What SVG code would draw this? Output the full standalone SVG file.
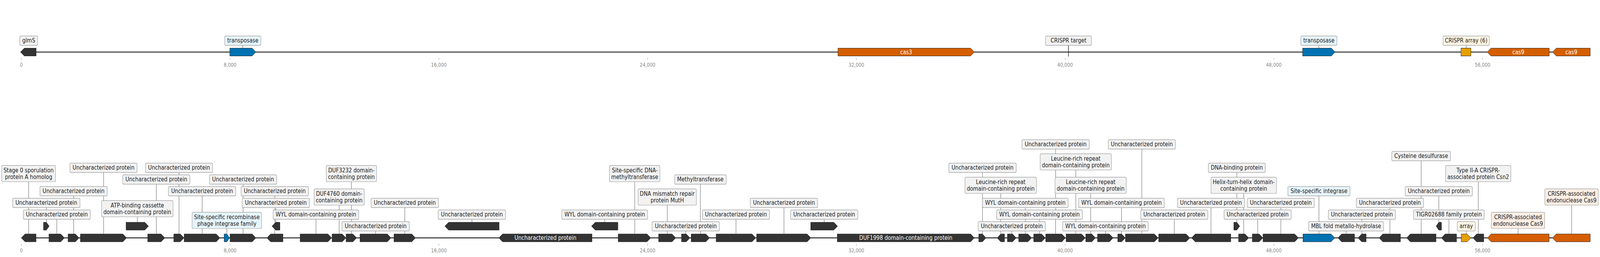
<svg xmlns="http://www.w3.org/2000/svg" width="4741" height="659" viewBox="0 0 4741 659" preserveAspectRatio="none">
<style>
svg{max-width:100vw}
.bb{stroke:#000;stroke-width:2;fill:none}
.g{fill:#333;stroke:#1a1a1a;stroke-width:1}
.gb{fill:#0072B2;stroke:#1a1a1a;stroke-width:1}
.go{fill:#D55E00;stroke:#1a1a1a;stroke-width:1}
.ga{fill:#E69F00;stroke:#1a1a1a;stroke-width:1}
.lb{fill:#f2f2f2;stroke:#999;stroke-width:1.2}
.lbb{fill:#e6f5fc;stroke:#999;stroke-width:1.2}
.lba{fill:#fdf6e5;stroke:#999;stroke-width:1.2}
.lbc{fill:#fdeee4;stroke:#999;stroke-width:1.2}
.cn{stroke:#555;stroke-width:1;fill:none}
.tg{stroke:#111;stroke-width:1.5}
.t{font-family:"DejaVu Sans","Liberation Sans",sans-serif;font-size:15.2px;fill:#1a1a1a;text-anchor:middle}
.tw{fill:#fff}
.tk{stroke:#999;stroke-width:1}
.tl{font-family:"DejaVu Sans","Liberation Sans",sans-serif;font-size:13.2px;fill:#888;text-anchor:middle}
</style>
<rect width="4741" height="659" fill="#fff"/>
<g id="backbones">
<line class="bb" x1="61" y1="133.5" x2="4712" y2="133.5"/>
<line class="bb" x1="63.3" y1="610" x2="4712" y2="610"/>
</g>
<g id="axes">
<g class="tk">
<line x1="63.3" y1="148.5" x2="63.3" y2="153.5"/><line x1="681.8" y1="148.5" x2="681.8" y2="153.5"/><line x1="1300.4" y1="148.5" x2="1300.4" y2="153.5"/><line x1="1918.9" y1="148.5" x2="1918.9" y2="153.5"/><line x1="2537.4" y1="148.5" x2="2537.4" y2="153.5"/><line x1="3156" y1="148.5" x2="3156" y2="153.5"/><line x1="3774.5" y1="148.5" x2="3774.5" y2="153.5"/><line x1="4393" y1="148.5" x2="4393" y2="153.5"/>
<line x1="63.3" y1="625" x2="63.3" y2="630"/><line x1="681.8" y1="625" x2="681.8" y2="630"/><line x1="1300.4" y1="625" x2="1300.4" y2="630"/><line x1="1918.9" y1="625" x2="1918.9" y2="630"/><line x1="2537.4" y1="625" x2="2537.4" y2="630"/><line x1="3156" y1="625" x2="3156" y2="630"/><line x1="3774.5" y1="625" x2="3774.5" y2="630"/><line x1="4393" y1="625" x2="4393" y2="630"/>
</g>
<g class="tl">
<text x="63.3" y="171.5">0</text><text x="681.8" y="171.5">8,000</text><text x="1300.4" y="171.5">16,000</text><text x="1918.9" y="171.5">24,000</text><text x="2537.4" y="171.5">32,000</text><text x="3156" y="171.5">40,000</text><text x="3774.5" y="171.5">48,000</text><text x="4393" y="171.5">56,000</text>
<text x="63.3" y="647">0</text><text x="681.8" y="647">8,000</text><text x="1300.4" y="647">16,000</text><text x="1918.9" y="647">24,000</text><text x="2537.4" y="647">32,000</text><text x="3156" y="647">40,000</text><text x="3774.5" y="647">48,000</text><text x="4393" y="647">56,000</text>
</g>
</g>
<g id="connectors" class="cn">
<line x1="719.5" y1="123.5" x2="719.5" y2="116.3"/>
<line x1="3908" y1="123.5" x2="3908" y2="116.3"/>
<line x1="4344.5" y1="123.5" x2="4344.5" y2="116.3"/>
<line x1="85" y1="600" x2="85" y2="466"/>
<line x1="168.3" y1="600" x2="168.3" y2="562.3"/>
<line x1="218.3" y1="600" x2="218.3" y2="502.3"/>
<line x1="307" y1="600" x2="307" y2="442.3"/>
<line x1="463.2" y1="600" x2="463.2" y2="472.3"/>
<line x1="137.3" y1="570" x2="137.3" y2="532.3"/>
<line x1="407" y1="570" x2="407" y2="556"/>
<line x1="530.5" y1="600" x2="530.5" y2="442.3"/>
<line x1="599" y1="600" x2="599" y2="502.3"/>
<line x1="672.2" y1="600" x2="672.2" y2="586"/>
<line x1="720.3" y1="600" x2="720.3" y2="472.3"/>
<line x1="814.2" y1="600" x2="814.2" y2="502.3"/>
<line x1="817.3" y1="570" x2="817.3" y2="532.3"/>
<line x1="936.3" y1="600" x2="936.3" y2="562.3"/>
<line x1="1005" y1="600" x2="1005" y2="526"/>
<line x1="1041.2" y1="600" x2="1041.2" y2="466"/>
<line x1="1113.2" y1="600" x2="1113.2" y2="592.3"/>
<line x1="1199.5" y1="600" x2="1199.5" y2="532.3"/>
<line x1="1398.4" y1="570" x2="1398.4" y2="562.3"/>
<line x1="1791.8" y1="570" x2="1791.8" y2="562.3"/>
<line x1="1880.9" y1="600" x2="1880.9" y2="466"/>
<line x1="1977.2" y1="600" x2="1977.2" y2="526"/>
<line x1="2032.2" y1="600" x2="2032.2" y2="592.3"/>
<line x1="2075.3" y1="600" x2="2075.3" y2="472.3"/>
<line x1="2180.8" y1="600" x2="2180.8" y2="562.3"/>
<line x1="2323" y1="600" x2="2323" y2="532.3"/>
<line x1="2442.2" y1="570" x2="2442.2" y2="562.3"/>
<line x1="2911.2" y1="600" x2="2911.2" y2="442.3"/>
<line x1="2965.3" y1="600" x2="2965.3" y2="496"/>
<line x1="2998.2" y1="600" x2="2998.2" y2="592.3"/>
<line x1="3038" y1="600" x2="3038" y2="532.3"/>
<line x1="3080.2" y1="600" x2="3080.2" y2="562.3"/>
<line x1="3128" y1="600" x2="3128" y2="382.3"/>
<line x1="3187.8" y1="600" x2="3187.8" y2="436"/>
<line x1="3231.8" y1="600" x2="3231.8" y2="496"/>
<line x1="3275.7" y1="600" x2="3275.7" y2="592.3"/>
<line x1="3323.2" y1="600" x2="3323.2" y2="532.3"/>
<line x1="3383.4" y1="600" x2="3383.4" y2="382.3"/>
<line x1="3479.6" y1="600" x2="3479.6" y2="562.3"/>
<line x1="3588.3" y1="600" x2="3588.3" y2="532.3"/>
<line x1="3664.9" y1="570" x2="3664.9" y2="442.3"/>
<line x1="3685.3" y1="600" x2="3685.3" y2="496"/>
<line x1="3726.7" y1="600" x2="3726.7" y2="562.3"/>
<line x1="3795.3" y1="600" x2="3795.3" y2="532.3"/>
<line x1="3908.2" y1="600" x2="3908.2" y2="502.3"/>
<line x1="3988.7" y1="600" x2="3988.7" y2="592.3"/>
<line x1="4035.6" y1="600" x2="4035.6" y2="562.3"/>
<line x1="4118.5" y1="600" x2="4118.5" y2="532.3"/>
<line x1="4211.1" y1="600" x2="4211.1" y2="412.3"/>
<line x1="4263.4" y1="570" x2="4263.4" y2="502.3"/>
<line x1="4293.3" y1="600" x2="4293.3" y2="562.3"/>
<line x1="4344.7" y1="600" x2="4344.7" y2="592.3"/>
<line x1="4380.3" y1="600" x2="4380.3" y2="466"/>
<line x1="4498.3" y1="600" x2="4498.3" y2="586"/>
<line x1="4657" y1="600" x2="4657" y2="526"/>
</g>
<g id="top-track">
<g id="top-glmS"><polygon class="g" points="107,123.5 72,123.5 61,133.5 72,143.5 107,143.5"/><rect class="lb" x="58.5" y="92.3" width="53" height="24" rx="3"/><text class="t" x="85" y="109">glmS</text></g>
<g id="top-transposase-1"><polygon class="gb" points="681,123.5 747,123.5 758,133.5 747,143.5 681,143.5"/><rect class="lbb" x="666" y="92.3" width="107" height="24" rx="3"/><text class="t" x="719.5" y="109">transposase</text></g>
<g id="top-cas3"><polygon class="go" points="2483,123.5 2876,123.5 2887,133.5 2876,143.5 2483,143.5"/><text class="t tw" x="2685" y="139">cas3</text></g>
<g id="top-crispr-target"><line class="tg" x1="3166" y1="116.3" x2="3166" y2="145"/><rect class="lb" x="3098" y="92.3" width="136" height="24" rx="3"/><text class="t" x="3166" y="109">CRISPR target</text></g>
<g id="top-transposase-2"><polygon class="gb" points="3860,123.5 3945,123.5 3956,133.5 3945,143.5 3860,143.5"/><rect class="lbb" x="3854.5" y="92.3" width="107" height="24" rx="3"/><text class="t" x="3908" y="109">transposase</text></g>
<g id="top-crispr-array"><rect class="ga" x="4329" y="123.5" width="29.5" height="20"/><rect class="lba" x="4276" y="92.3" width="137" height="24" rx="3"/><text class="t" x="4344.5" y="109">CRISPR array (6)</text></g>
<g id="top-cas9-1"><polygon class="go" points="4590.5,123.5 4418,123.5 4407,133.5 4418,143.5 4590.5,143.5"/><text class="t tw" x="4499" y="139">cas9</text></g>
<g id="top-cas9-2"><polygon class="go" points="4712,123.5 4611.5,123.5 4600.5,133.5 4611.5,143.5 4712,143.5"/><text class="t tw" x="4656" y="139">cas9</text></g>
</g>
<g id="bottom-track">
<g id="n01"><polygon class="g" points="106.7,600 74.3,600 63.3,610 74.3,620 106.7,620"/><rect class="lb" x="5" y="424.3" width="159.3" height="41.7" rx="3"/><text class="t"><tspan x="84.7" y="441.9">Stage 0 sporulation</tspan><tspan x="84.7" y="458.6">protein A homolog</tspan></text></g>
<g id="n02"><polygon class="g" points="145,600 180,600 191,610 180,620 145,620"/><rect class="lb" x="69" y="538.3" width="198.7" height="24" rx="3"/><text class="t" x="168.4" y="555.1">Uncharacterized protein</text></g>
<g id="n03"><polygon class="g" points="201.7,600 223.3,600 234.3,610 223.3,620 201.7,620"/><rect class="lb" x="118.3" y="478.3" width="199.4" height="24" rx="3"/><text class="t" x="218" y="495.1">Uncharacterized protein</text></g>
<g id="n04"><polygon class="g" points="238.3,600 364,600 375,610 364,620 238.3,620"/><rect class="lb" x="207.3" y="418.3" width="199" height="24" rx="3"/><text class="t" x="306.8" y="435.1">Uncharacterized protein</text></g>
<g id="n05"><polygon class="g" points="437.7,600 477.3,600 488.3,610 477.3,620 437.7,620"/><rect class="lb" x="363.7" y="448.3" width="199" height="24" rx="3"/><text class="t" x="463.2" y="465.1">Uncharacterized protein</text></g>
<g id="u01"><polygon class="g" points="129,570 137.3,570 145.7,580 137.3,590 129,590"/><rect class="lb" x="37.7" y="508.3" width="199.3" height="24" rx="3"/><text class="t" x="137.3" y="525.1">Uncharacterized protein</text></g>
<g id="u02"><polygon class="g" points="373.7,570 429,570 440,580 429,590 373.7,590"/><rect class="lb" x="301" y="514.3" width="211.7" height="41.7" rx="3"/><text class="t"><tspan x="406.9" y="531.9">ATP-binding cassette</tspan><tspan x="406.9" y="548.6">domain-containing protein</tspan></text></g>
<g id="n06"><polygon class="g" points="515,600 534.3,600 545.3,610 534.3,620 515,620"/><rect class="lb" x="431" y="418.3" width="199" height="24" rx="3"/><text class="t" x="530.5" y="435.1">Uncharacterized protein</text></g>
<g id="n07"><polygon class="g" points="545.7,600 640.7,600 651.7,610 640.7,620 545.7,620"/><rect class="lb" x="499" y="478.3" width="199.7" height="24" rx="3"/><text class="t" x="598.9" y="495.1">Uncharacterized protein</text></g>
<g id="n08"><polygon class="gb" points="664.3,600 672.2,600 680,610 672.2,620 664.3,620"/><rect class="lbb" x="569.3" y="544.3" width="205.7" height="41.7" rx="3"/><text class="t"><tspan x="672.2" y="561.9">Site-specific recombinase</tspan><tspan x="672.2" y="578.6">phage integrase family</tspan></text></g>
<g id="n09"><polygon class="g" points="681.7,600 747.3,600 758.3,610 747.3,620 681.7,620"/><rect class="lb" x="620.7" y="448.3" width="199.3" height="24" rx="3"/><text class="t" x="720.3" y="465.1">Uncharacterized protein</text></g>
<g id="n10"><polygon class="g" points="838.3,600 802,600 791,610 802,620 838.3,620"/><rect class="lb" x="714.3" y="478.3" width="199.7" height="24" rx="3"/><text class="t" x="814.2" y="495.1">Uncharacterized protein</text></g>
<g id="u03"><polygon class="g" points="829.3,570 817,570 806,580 817,590 829.3,590"/><rect class="lb" x="717.7" y="508.3" width="199.3" height="24" rx="3"/><text class="t" x="817.3" y="525.1">Uncharacterized protein</text></g>
<g id="n11"><polygon class="g" points="889.3,600 971.7,600 982.7,610 971.7,620 889.3,620"/><rect class="lb" x="809.3" y="538.3" width="253.7" height="24" rx="3"/><text class="t" x="936.2" y="555.1">WYL domain-containing protein</text></g>
<g id="n12"><polygon class="g" points="984,600 1014,600 1025,610 1014,620 984,620"/><rect class="lb" x="930.7" y="484.3" width="148.6" height="41.7" rx="3"/><text class="t"><tspan x="1005" y="501.9">DUF4760 domain-</tspan><tspan x="1005" y="518.6">containing protein</tspan></text></g>
<g id="n13"><polygon class="g" points="1025.5,600 1045.7,600 1056.7,610 1045.7,620 1025.5,620"/><rect class="lb" x="966.7" y="424.3" width="149.1" height="41.7" rx="3"/><text class="t"><tspan x="1041.2" y="441.9">DUF3232 domain-</tspan><tspan x="1041.2" y="458.6">containing protein</tspan></text></g>
<g id="n14"><polygon class="g" points="1066.8,600 1147.7,600 1158.7,610 1147.7,620 1066.8,620"/><rect class="lb" x="1013.4" y="568.3" width="199.4" height="24" rx="3"/><text class="t" x="1113.1" y="585.1">Uncharacterized protein</text></g>
<g id="n15"><polygon class="g" points="1167.5,600 1220,600 1231,610 1220,620 1167.5,620"/><rect class="lb" x="1099.6" y="508.3" width="199.8" height="24" rx="3"/><text class="t" x="1199.5" y="525.1">Uncharacterized protein</text></g>
<g id="u04"><polygon class="g" points="1478.9,570 1329.3,570 1318.3,580 1329.3,590 1478.9,590"/><rect class="lb" x="1298.4" y="538.3" width="199.8" height="24" rx="3"/><text class="t" x="1398.3" y="555.1">Uncharacterized protein</text></g>
<g id="n16"><polygon class="g" points="1754.1,600 1489.2,600 1478.2,610 1489.2,620 1754.1,620"/><text class="t tw" x="1616.2" y="615.5">Uncharacterized protein</text></g>
<g id="u05"><polygon class="g" points="1830.9,570 1763.8,570 1752.8,580 1763.8,590 1830.9,590"/><rect class="lb" x="1664.6" y="538.3" width="254.2" height="24" rx="3"/><text class="t" x="1791.7" y="555.1">WYL domain-containing protein</text></g>
<g id="n17"><polygon class="g" points="1831.9,600 1917.2,600 1928.2,610 1917.2,620 1831.9,620"/><rect class="lb" x="1806.2" y="424.3" width="149.1" height="41.7" rx="3"/><text class="t"><tspan x="1880.8" y="441.9">Site-specific DNA-</tspan><tspan x="1880.8" y="458.6">methyltransferase</tspan></text></g>
<g id="n18"><polygon class="g" points="1951.6,600 1991.3,600 2002.3,610 1991.3,620 1951.6,620"/><rect class="lb" x="1890.7" y="484.3" width="172.8" height="41.7" rx="3"/><text class="t"><tspan x="1977.1" y="501.9">DNA mismatch repair</tspan><tspan x="1977.1" y="518.6">protein MutH</tspan></text></g>
<g id="n19"><polygon class="g" points="2019.5,600 2033.5,600 2044.5,610 2033.5,620 2019.5,620"/><rect class="lb" x="1932.3" y="568.3" width="199.5" height="24" rx="3"/><text class="t" x="2032.1" y="585.1">Uncharacterized protein</text></g>
<g id="n20"><polygon class="g" points="2048,600 2091.4,600 2102.4,610 2091.4,620 2048,620"/><rect class="lb" x="1998.9" y="448.3" width="152.9" height="24" rx="3"/><text class="t" x="2075.3" y="465.1">Methyltransferase</text></g>
<g id="n21"><polygon class="g" points="2122,600 2228.3,600 2239.3,610 2228.3,620 2122,620"/><rect class="lb" x="2081.1" y="538.3" width="199.1" height="24" rx="3"/><text class="t" x="2180.7" y="555.1">Uncharacterized protein</text></g>
<g id="n22"><polygon class="g" points="2242,600 2391.6,600 2402.6,610 2391.6,620 2242,620"/><rect class="lb" x="2223.1" y="508.3" width="199.5" height="24" rx="3"/><text class="t" x="2322.9" y="525.1">Uncharacterized protein</text></g>
<g id="u06"><polygon class="g" points="2402.3,570 2470.7,570 2481.7,580 2470.7,590 2402.3,590"/><rect class="lb" x="2342.4" y="538.3" width="199.5" height="24" rx="3"/><text class="t" x="2442.2" y="555.1">Uncharacterized protein</text></g>
<g id="n23"><polygon class="g" points="2481,600 2876,600 2887,610 2876,620 2481,620"/><text class="t tw" x="2684" y="615.5">DUF1998 domain-containing protein</text></g>
<g id="n24"><polygon class="g" points="2900.3,600 2911,600 2921.6,610 2911,620 2900.3,620"/><rect class="lb" x="2811.4" y="418.3" width="199.8" height="24" rx="3"/><text class="t" x="2911.3" y="435.1">Uncharacterized protein</text></g>
<g id="n25"><polygon class="g" points="2976.4,600 2965.5,600 2954.7,610 2965.5,620 2976.4,620"/><rect class="lb" x="2859.4" y="454.3" width="211.6" height="41.7" rx="3"/><text class="t"><tspan x="2965.2" y="471.9">Leucine-rich repeat</tspan><tspan x="2965.2" y="488.6">domain-containing protein</tspan></text></g>
<g id="n26"><polygon class="g" points="2985.1,600 3000.2,600 3011.2,610 3000.2,620 2985.1,620"/><rect class="lb" x="2898.3" y="568.3" width="199.4" height="24" rx="3"/><text class="t" x="2998" y="585.1">Uncharacterized protein</text></g>
<g id="n27"><polygon class="g" points="3018.6,600 3045.8,600 3056.8,610 3045.8,620 3018.6,620"/><rect class="lb" x="2911" y="508.3" width="254" height="24" rx="3"/><text class="t" x="3038" y="525.1">WYL domain-containing protein</text></g>
<g id="n28"><polygon class="g" points="3062.9,600 3086.4,600 3097.4,610 3086.4,620 3062.9,620"/><rect class="lb" x="2953" y="538.3" width="254.4" height="24" rx="3"/><text class="t" x="3080.2" y="555.1">WYL domain-containing protein</text></g>
<g id="n29"><polygon class="g" points="3098.6,600 3146.1,600 3157.1,610 3146.1,620 3098.6,620"/><rect class="lb" x="3028.1" y="358.3" width="199.6" height="24" rx="3"/><text class="t" x="3127.9" y="375.1">Uncharacterized protein</text></g>
<g id="n30"><polygon class="g" points="3158.9,600 3204.7,600 3215.7,610 3204.7,620 3158.9,620"/><rect class="lb" x="3082.2" y="394.3" width="211" height="41.7" rx="3"/><text class="t"><tspan x="3187.7" y="411.9">Leucine-rich repeat</tspan><tspan x="3187.7" y="428.6">domain-containing protein</tspan></text></g>
<g id="n31"><polygon class="g" points="3217.4,600 3235,600 3246,610 3235,620 3217.4,620"/><rect class="lb" x="3126.2" y="454.3" width="211" height="41.7" rx="3"/><text class="t"><tspan x="3231.7" y="471.9">Leucine-rich repeat</tspan><tspan x="3231.7" y="488.6">domain-containing protein</tspan></text></g>
<g id="n32"><polygon class="g" points="3252.2,600 3287.3,600 3298.3,610 3287.3,620 3252.2,620"/><rect class="lb" x="3148.5" y="568.3" width="254.2" height="24" rx="3"/><text class="t" x="3275.6" y="585.1">WYL domain-containing protein</text></g>
<g id="n33"><polygon class="g" points="3312.1,600 3323.5,600 3334.5,610 3323.5,620 3312.1,620"/><rect class="lb" x="3196" y="508.3" width="254.2" height="24" rx="3"/><text class="t" x="3323.1" y="525.1">WYL domain-containing protein</text></g>
<g id="n34"><polygon class="g" points="3334.8,600 3420.6,600 3431.6,610 3420.6,620 3334.8,620"/><rect class="lb" x="3283.9" y="358.3" width="199" height="24" rx="3"/><text class="t" x="3383.4" y="375.1">Uncharacterized protein</text></g>
<g id="n35"><polygon class="g" points="3433.3,600 3514.6,600 3525.6,610 3514.6,620 3433.3,620"/><rect class="lb" x="3380" y="538.3" width="199" height="24" rx="3"/><text class="t" x="3479.5" y="555.1">Uncharacterized protein</text></g>
<g id="n36"><polygon class="g" points="3647,600 3541.8,600 3530.8,610 3541.8,620 3647,620"/><rect class="lb" x="3488.8" y="508.3" width="198.9" height="24" rx="3"/><text class="t" x="3588.2" y="525.1">Uncharacterized protein</text></g>
<g id="u07"><polygon class="g" points="3656.1,570 3664.7,570 3673.3,580 3664.7,590 3656.1,590"/><rect class="lb" x="3580.4" y="418.3" width="168.7" height="24" rx="3"/><text class="t" x="3664.8" y="435.1">DNA-binding protein</text></g>
<g id="n37"><polygon class="g" points="3670.2,600 3689,600 3700,610 3689,620 3670.2,620"/><rect class="lb" x="3588.3" y="454.3" width="194.1" height="41.7" rx="3"/><text class="t"><tspan x="3685.3" y="471.9">Helix-turn-helix domain-</tspan><tspan x="3685.3" y="488.6">containing protein</tspan></text></g>
<g id="n38"><polygon class="g" points="3710.8,600 3731.1,600 3742.1,610 3731.1,620 3710.8,620"/><rect class="lb" x="3627" y="538.3" width="199.2" height="24" rx="3"/><text class="t" x="3726.6" y="555.1">Uncharacterized protein</text></g>
<g id="n39"><polygon class="g" points="3742.4,600 3836.3,600 3847.3,610 3836.3,620 3742.4,620"/><rect class="lb" x="3695.8" y="508.3" width="198.8" height="24" rx="3"/><text class="t" x="3795.2" y="525.1">Uncharacterized protein</text></g>
<g id="n40"><polygon class="gb" points="3861,600 3944,600 3955,610 3944,620 3861,620"/><rect class="lbb" x="3816.1" y="478.3" width="184.1" height="24" rx="3"/><text class="t" x="3908.2" y="495.1">Site-specific integrase</text></g>
<g id="n41"><polygon class="g" points="4013.5,600 3975.4,600 3964.4,610 3975.4,620 4013.5,620"/><rect class="lb" x="3877.5" y="568.3" width="222.3" height="24" rx="3"/><text class="t" x="3988.7" y="585.1">MBL fold metallo-hydrolase</text></g>
<g id="n42"><polygon class="g" points="4047.9,600 4035,600 4024,610 4035,620 4047.9,620"/><rect class="lb" x="3936" y="538.3" width="198.9" height="24" rx="3"/><text class="t" x="4035.5" y="555.1">Uncharacterized protein</text></g>
<g id="n43"><polygon class="g" points="4149.6,600 4097.5,600 4086.5,610 4097.5,620 4149.6,620"/><rect class="lb" x="4018.8" y="508.3" width="199.3" height="24" rx="3"/><text class="t" x="4118.5" y="525.1">Uncharacterized protein</text></g>
<g id="n44"><polygon class="g" points="4255,600 4179,600 4168,610 4179,620 4255,620"/><rect class="lb" x="4124" y="388.3" width="174.2" height="24" rx="3"/><text class="t" x="4211.1" y="405.1">Cysteine desulfurase</text></g>
<g id="u08"><polygon class="g" points="4271.2,570 4263.4,570 4255.6,580 4263.4,590 4271.2,590"/><rect class="lb" x="4163.7" y="478.3" width="199.3" height="24" rx="3"/><text class="t" x="4263.4" y="495.1">Uncharacterized protein</text></g>
<g id="n45"><polygon class="g" points="4316,600 4282.2,600 4271.2,610 4282.2,620 4316,620"/><rect class="lb" x="4188.5" y="538.3" width="209.4" height="24" rx="3"/><text class="t" x="4293.2" y="555.1">TIGR02688 family protein</text></g>
<g id="n46"><polygon class="ga" points="4330,600 4347.2,600 4358.2,610 4347.2,620 4330,620"/><rect class="lba" x="4318" y="568.3" width="53.4" height="24" rx="3"/><text class="t" x="4344.7" y="585.1">array</text></g>
<g id="n47"><polygon class="g" points="4396.4,600 4375.5,600 4364.5,610 4375.5,620 4396.4,620"/><rect class="lb" x="4283.4" y="424.3" width="193.4" height="41.7" rx="3"/><text class="t"><tspan x="4380.1" y="441.9">Type II-A CRISPR-</tspan><tspan x="4380.1" y="458.6">associated protein Csn2</tspan></text></g>
<g id="n48"><polygon class="go" points="4590.2,600 4418.5,600 4407.5,610 4418.5,620 4590.2,620"/><rect class="lbc" x="4419" y="544.3" width="158.2" height="41.7" rx="3"/><text class="t"><tspan x="4498.1" y="561.9">CRISPR-associated</tspan><tspan x="4498.1" y="578.6">endonuclease Cas9</tspan></text></g>
<g id="n49"><polygon class="go" points="4712,600 4611.2,600 4600.2,610 4611.2,620 4712,620"/><rect class="lbc" x="4577.6" y="484.3" width="158.2" height="41.7" rx="3"/><text class="t"><tspan x="4656.7" y="501.9">CRISPR-associated</tspan><tspan x="4656.7" y="518.6">endonuclease Cas9</tspan></text></g>
</g>
</svg>
